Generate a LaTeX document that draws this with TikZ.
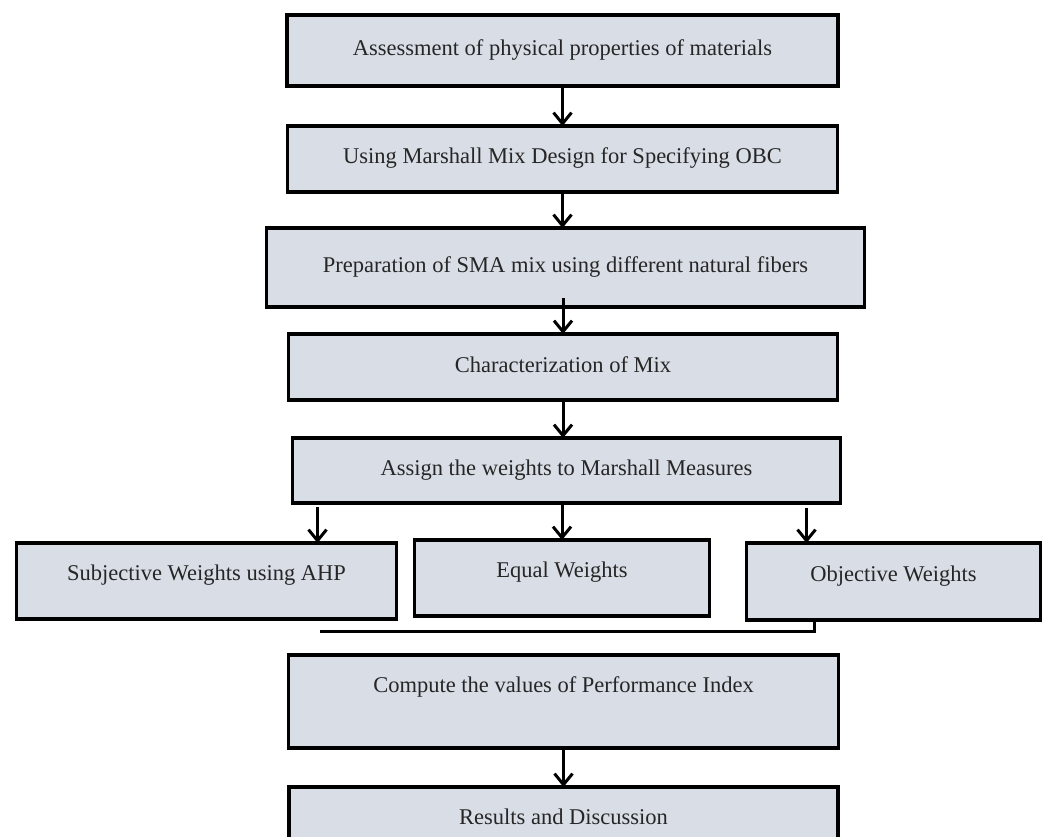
\documentclass[tikz,border=0pt]{standalone}
\usepackage{fontspec}
\setmainfont{Liberation Serif}
\usetikzlibrary{positioning,arrows.meta}
\definecolor{boxfill}{RGB}{216,221,230}
\tikzset{
  stage/.style={draw,rectangle,fill=boxfill,line width=3.5pt,outer sep=0pt,
    text height=15.5pt,text depth=5.5pt,
    font=\fontsize{22.5}{27}\selectfont,text=black!85},
  arr/.style={line width=3pt,-{Straight Barb[length=11pt,width=18pt]}},
  link/.style={line width=3pt}
}

\begin{document}
\begin{tikzpicture}[x=1pt,y=-1pt]
    \useasboundingbox (0,0) rectangle (1046,837);

    \node[stage,minimum width=551pt,minimum height=71pt] (assess) at (562.5,50.5) {Assessment of physical properties of materials};
    \node[stage,minimum width=550pt,minimum height=66pt,below=40pt of assess] (marshall) {Using Marshall Mix Design for Specifying OBC};
    \node[stage,minimum width=598pt,minimum height=79pt,below=36pt of marshall,xshift=3pt] (prep) {Preparation of SMA mix using different natural fibers};
    \node[stage,minimum width=549pt,minimum height=66pt,below=27pt of prep,xshift=-2.5pt] (charact) {Characterization of Mix};
    \node[stage,minimum width=548pt,minimum height=65pt,below=38pt of charact,xshift=3.5pt] (assign) {Assign the weights to Marshall Measures};

    \node[stage,minimum width=295pt,minimum height=76pt,text depth=17.5pt,below=37pt of assign,xshift=-4.5pt] (equal) {Equal Weights};
    \node[stage,minimum width=380pt,minimum height=76pt,text depth=17.5pt,left=18pt of equal,yshift=-3pt] (ahp) {Subjective Weights using AHP};
    \node[stage,minimum width=294pt,minimum height=77pt,text depth=16pt,right=37pt of equal,yshift=-3.5pt] (obj) {Objective Weights};

    \node[stage,minimum width=550pt,minimum height=93pt,text depth=33pt,below=39pt of equal,xshift=1.5pt] (compute) {Compute the values of Performance Index};
    \node[stage,minimum width=549pt,minimum height=65pt,below=39pt of compute] (results) {Results and Discussion};

    \draw[arr] (assess) -- (assess |- marshall.north);
    \draw[arr] (marshall) -- (marshall |- prep.north);
    \draw[arr] (charact.north |- prep.south) ++(0pt,9pt) -- (charact.north);
    \draw[arr] (charact) -- (charact |- assign.north);

    \coordinate (toL) at ([xshift=25pt,yshift=-4pt]assign.south west);
    \coordinate (toR) at ([xshift=-34pt,yshift=-5pt]assign.south east);
    \draw[arr] (toL) -- (toL |- ahp.north);
    \draw[arr] (equal.north |- assign.south) -- (equal.north);
    \draw[arr] (toR) -- (toR |- obj.north);

    \coordinate (joinL) at (320,631);
    \draw[link] ([xshift=68pt]obj.south west) |- (joinL);

    \draw[arr] (compute) -- (compute |- results.north);
\end{tikzpicture}
\end{document}
